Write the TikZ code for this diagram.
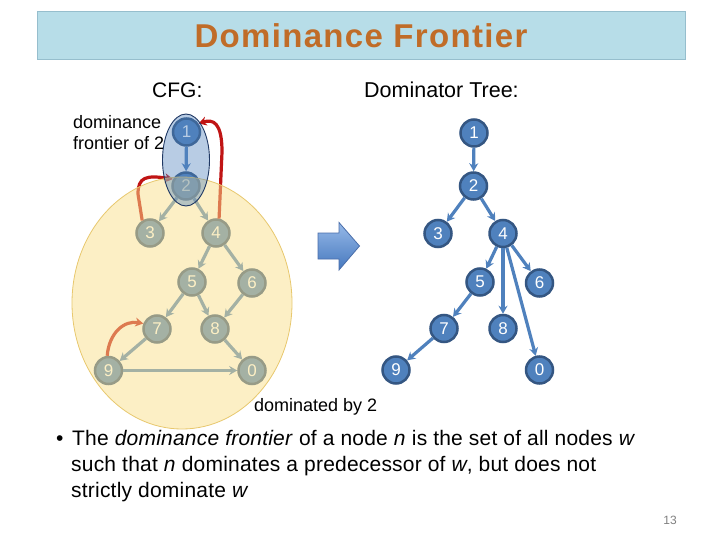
\documentclass[tikz,border=0pt]{standalone}
\usepackage{fontspec}
\setmainfont{Liberation Sans}
\usetikzlibrary{arrows.meta,shapes.geometric}
\definecolor{nodeblue}{RGB}{79,129,189}
\definecolor{nodeborder}{RGB}{52,86,130}
\definecolor{redline}{RGB}{192,20,20}
\definecolor{titlefill}{RGB}{183,221,232}
\definecolor{titleborder}{RGB}{150,190,205}
\definecolor{titletext}{RGB}{192,108,40}
\definecolor{yellowfill}{RGB}{250,225,140}
\definecolor{yellowborder}{RGB}{232,200,110}
\definecolor{ellblue}{RGB}{79,129,189}
\definecolor{ellborder}{RGB}{31,56,100}
\definecolor{arrowtop}{RGB}{150,185,232}
\definecolor{arrowbot}{RGB}{70,120,190}
\definecolor{arrowborder}{RGB}{74,110,170}
\begin{document}
\begin{tikzpicture}[x=1pt,y=-1pt,
  gnode/.style={circle,fill=nodeblue,draw=nodeborder,line width=2.5pt,minimum size=27pt,inner sep=0pt,text=white,font=\fontsize{17}{17}\selectfont},
  edge/.style={draw=nodeblue,line width=3.2pt,-{Stealth[length=8pt,width=9pt]}},
  redarr/.style={draw=redline,line width=3.2pt,-{Stealth[length=8pt,width=9pt]}},
  lbl/.style={anchor=base west,inner sep=0pt,text=black},
  titlebox/.style={draw=titleborder,fill=titlefill,line width=1pt,minimum width=648pt,minimum height=48pt,inner sep=0pt,text=titletext,font=\fontsize{33}{36}\selectfont\bfseries\addfontfeature{LetterSpace=4}}
]
\useasboundingbox (0,0) rectangle (720,540);
\fill[white] (0,0) rectangle (720,540);

% title
\node[titlebox] (title) at (361,36) {Dominance Frontier};

% headings
\node[lbl,font=\fontsize{21}{21}\selectfont] (cfglbl) at (152,98) {CFG:};
\node[lbl,font=\fontsize{21.5}{21.5}\selectfont] (dtlbl) at (364,98) {Dominator Tree:};

% CFG nodes
\node[gnode] (c1) at (186.5,132) {1};
\node[gnode] (c2) at (186,186) {2};
\node[gnode] (c3) at (150,233) {3};
\node[gnode] (c4) at (216,233) {4};
\node[gnode] (c5) at (192,282) {5};
\node[gnode] (c6) at (252,283) {6};
\node[gnode] (c7) at (157,329) {7};
\node[gnode] (c8) at (215,329) {8};
\node[gnode] (c9) at (108.5,370.5) {9};
\node[gnode] (c0) at (252,370.5) {0};

% CFG edges
\draw[edge] (c1) -- (c2);
\draw[edge] (c2) -- (c3);
\draw[edge] (c2) -- (c4);
\draw[edge] (c4) -- (c5);
\draw[edge] (c4) -- (c6);
\draw[edge] (c5) -- (c7);
\draw[edge] (c5) -- (c8);
\draw[edge] (c6) -- (c8);
\draw[edge] (c7) -- (c9);
\draw[edge] (c8) -- (c0);
\draw[edge] (c9) -- (c0);

% red back edges
\draw[redarr] (c4.78) -- (222,152) .. controls (222,122) and (213,119) .. (c1.35);
\draw[redarr] (c3.122) -- (138,194) .. controls (138,177) and (146,175) .. (c2.152);
\draw[redarr] (c9.95) .. controls (109,333) and (124,320) .. (c7.158);

% overlays
\draw[draw=yellowborder,fill=yellowfill,fill opacity=0.5,line width=0.8pt] (182,303) ellipse [x radius=110, y radius=126];
\draw[draw=ellborder,fill=ellblue,fill opacity=0.4,line width=0.9pt] (186,160) ellipse [x radius=23.5, y radius=46];

% annotations
\node[lbl,font=\fontsize{18}{18}\selectfont] (df1) at (73,129) {dominance};
\node[lbl,font=\fontsize{18}{18}\selectfont] (df2) at (73,150) {frontier of 2};
\node[lbl,font=\fontsize{18}{18}\selectfont] (domby) at (254,411) {dominated by 2};

% block arrow
\draw[draw=arrowborder,line width=0.8pt,top color=arrowtop,bottom color=arrowbot]
  (318,233) -- (339,233) -- (339,222.5) -- (359.5,246) -- (339,270) -- (339,259) -- (318,259) -- cycle;

% dominator tree
\node[gnode] (t1) at (474,133) {1};
\node[gnode] (t2) at (473.5,186) {2};
\node[gnode] (t3) at (438,233.5) {3};
\node[gnode] (t4) at (503,233.5) {4};
\node[gnode] (t5) at (480,282) {5};
\node[gnode] (t6) at (539.5,283) {6};
\node[gnode] (t7) at (444,328.5) {7};
\node[gnode] (t8) at (503,328.5) {8};
\node[gnode] (t9) at (396,370) {9};
\node[gnode] (t0) at (539.5,370) {0};

\draw[edge] (t1) -- (t2);
\draw[edge] (t2) -- (t3);
\draw[edge] (t2) -- (t4);
\draw[edge] (t4) -- (t5);
\draw[edge] (t4) -- (t6);
\draw[edge] (t4) -- (t8);
\draw[edge] (t4) -- (t0);
\draw[edge] (t5) -- (t7);
\draw[edge] (t7) -- (t9);

% bullet text
\node[lbl,font=\fontsize{21}{21}\selectfont] (bul) at (56,445) {•};
\node[lbl,font=\fontsize{21}{21}\selectfont\addfontfeature{LetterSpace=1}] (b1) at (72,445) {The \textit{dominance frontier} of a node \textit{n} is the set of all nodes \textit{w}};
\node[lbl,font=\fontsize{21}{21}\selectfont\addfontfeature{LetterSpace=1}] (b2) at (71,471) {such that \textit{n} dominates a predecessor of \textit{w}, but does not};
\node[lbl,font=\fontsize{21}{21}\selectfont\addfontfeature{LetterSpace=1}] (b3) at (71,497) {strictly dominate \textit{w}};

\node[anchor=base east,inner sep=0pt,text=gray,font=\fontsize{12}{12}\selectfont] (pg) at (677,524) {13};
\end{tikzpicture}
\end{document}
